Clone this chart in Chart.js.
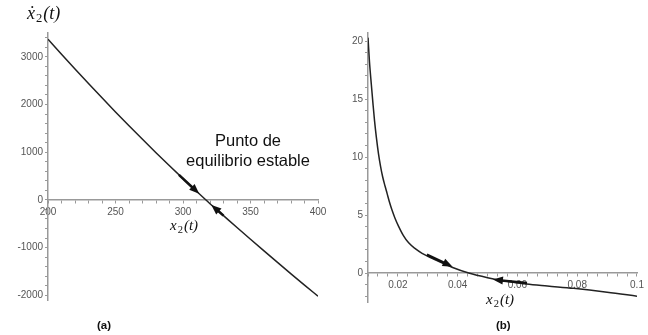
<!DOCTYPE html>
<html>
<head>
<meta charset="utf-8">
<script src="https://cdn.jsdelivr.net/npm/chart.js@4/dist/chart.umd.min.js"></script>
<style>
  html, body { margin: 0; padding: 0; background: #fff; }
  #wrap { position: relative; width: 648px; height: 335px; overflow: hidden; }
  canvas { position: absolute; top: 0; }
  .lbl { position: absolute; white-space: nowrap; color: #111; }
  .math { font-family: "Liberation Serif", "DejaVu Serif", serif; font-style: italic; }
  .math sub { font-style: normal; font-size: 70%; vertical-align: -0.25em; margin: 0 1px; }
  .cap { font-family: "Liberation Sans", Arial, sans-serif; font-weight: bold; font-size: 11.5px; }
</style>
</head>
<body>
<div id="wrap">
  <canvas id="chartA" width="330" height="335" style="left:0"></canvas>
  <canvas id="chartB" width="318" height="335" style="left:330px"></canvas>

  <div class="lbl math" style="left:27px; top:3px; font-size:18px;">ẋ<sub>2</sub>(t)</div>
  <div class="lbl math" style="left:170px; top:217px; font-size:15px;">x<sub>2</sub>(t)</div>
  <div class="lbl math" style="left:486px; top:291px; font-size:15px;">x<sub>2</sub>(t)</div>

  <div class="lbl" style="left:168px; top:130px; width:160px; text-align:center; font-family:'Liberation Sans', Arial, sans-serif; font-size:16.5px; line-height:20px;">Punto de<br>equilibrio estable</div>

  <div class="lbl cap" style="left:97px; top:319px;">(a)</div>
  <div class="lbl cap" style="left:496px; top:319px;">(b)</div>
</div>

<script>
// (a) x2 vs dx2/dt
const xA = [200, 210, 220, 230, 240, 250, 260, 270, 280, 290, 300, 310, 320, 330, 340, 350, 360, 370, 380, 390, 400];
const yA = [3370, 3055, 2745, 2440, 2140, 1845, 1555, 1270, 990, 715, 445, 180, -80, -330, -580, -827, -1071, -1312, -1551, -1787, -2020];
const xLabelsA = [200, 250, 300, 350, 400];
const yLabelsA = [-2000, -1000, 0, 1000, 2000, 3000];
// arrows: [xFrom, yFrom, xTo, yTo]
const arrowsA = [[297, 525, 312, 128], [330, -330, 321, -105]];

// (b)
const xB = [0.0100, 0.0105, 0.0111, 0.0117, 0.0122, 0.0128, 0.0135, 0.0142, 0.0149, 0.0157, 0.0164, 0.0172, 0.0180, 0.0190, 0.0202, 0.0218, 0.0236, 0.0258, 0.0281, 0.0325, 0.0381, 0.0437, 0.0500, 0.0565, 0.0630, 0.0700, 0.0788, 0.0900, 0.1000];
const yB = [20.3, 18.2, 16.3, 14.5, 13.1, 11.7, 10.3, 9.2, 8.3, 7.5, 6.85, 6.1, 5.45, 4.75, 4.05, 3.25, 2.6, 2.1, 1.7, 1.14, 0.5, 0.0, -0.40, -0.72, -0.95, -1.12, -1.32, -1.65, -2.0];
const xLabelsB = [0.02, 0.04, 0.06, 0.08, 0.1];
const yLabelsB = [0, 5, 10, 15, 20];
const arrowsB = [[0.0297, 1.58, 0.0383, 0.55], [0.0632, -0.86, 0.0518, -0.57]];

const axisColor = "#999";
const tickFont = { family: "Liberation Sans", size: 10 };
const tickColor = "#555";

function stepTicks(from, to, step) {
  const out = [];
  const n = Math.round((to - from) / step);
  for (let i = 0; i <= n; i++) out.push({ value: from + i * step });
  return out;
}

function labelIn(list) {
  return function (value) {
    for (let i = 0; i < list.length; i++) {
      if (Math.abs(list[i] - value) < 1e-9 * Math.max(1, Math.abs(value)) + 1e-9) return String(list[i]);
    }
    return "";
  };
}

function arrowPlugin(arrows) {
  return {
    id: "arrows",
    afterDatasetsDraw(chart) {
      const c = chart.ctx;
      const sx = chart.scales.x, sy = chart.scales.y;
      c.save();
      c.strokeStyle = "#111";
      c.fillStyle = "#111";
      c.lineWidth = 2.5;
      arrows.forEach(a => {
        const x0 = sx.getPixelForValue(a[0]), y0 = sy.getPixelForValue(a[1]);
        const x1 = sx.getPixelForValue(a[2]), y1 = sy.getPixelForValue(a[3]);
        const ang = Math.atan2(y1 - y0, x1 - x0);
        const len = 10, half = 4;
        const bx = x1 - len * Math.cos(ang), by = y1 - len * Math.sin(ang);
        c.beginPath();
        c.moveTo(x0, y0);
        c.lineTo(bx + 1.5 * Math.cos(ang), by + 1.5 * Math.sin(ang));
        c.stroke();
        c.beginPath();
        c.moveTo(x1, y1);
        c.lineTo(bx + half * Math.sin(ang), by - half * Math.cos(ang));
        c.lineTo(bx - half * Math.sin(ang), by + half * Math.cos(ang));
        c.closePath();
        c.fill();
      });
      c.restore();
    }
  };
}

function axisOpts(extra) {
  return Object.assign({
    type: "linear",
    grid: { drawOnChartArea: false, drawTicks: true, tickLength: 3, color: axisColor, lineWidth: 1 },
    border: { color: axisColor, width: 1.5 },
    ticks: { autoSkip: false, maxRotation: 0, font: tickFont, color: tickColor, padding: 2 }
  }, extra);
}

function makeChart(id, xs, ys, xr, yr, opts) {
  const xScale = axisOpts({ min: xr[0], max: xr[1], position: { y: 0 },
    afterBuildTicks: s => { s.ticks = opts.xTicks; } });
  xScale.ticks = Object.assign({}, xScale.ticks, { callback: labelIn(opts.xLabels), padding: 3 });
  const yScale = axisOpts({ min: yr[0], max: yr[1], position: "left",
    afterBuildTicks: s => { s.ticks = opts.yTicks; },
    afterFit: s => { s.width = opts.yWidth; } });
  yScale.ticks = Object.assign({}, yScale.ticks, { callback: labelIn(opts.yLabels) });

  return new Chart(document.getElementById(id), {
    type: "scatter",
    data: {
      datasets: [{
        data: xs.map((x, i) => ({ x: x, y: ys[i] })),
        showLine: true,
        borderColor: "#222",
        borderWidth: 1.5,
        pointRadius: 0,
        cubicInterpolationMode: "monotone",
        fill: false
      }]
    },
    options: {
      responsive: false,
      animation: false,
      layout: { padding: opts.padding },
      plugins: { legend: { display: false }, tooltip: { enabled: false } },
      scales: { x: xScale, y: yScale }
    },
    plugins: [arrowPlugin(opts.arrows)]
  });
}

makeChart("chartA", xA, yA, [200, 400], [-2100, 3500], {
  xTicks: stepTicks(200, 400, 10),
  yTicks: stepTicks(-2000, 3400, 200),
  xLabels: xLabelsA,
  yLabels: yLabelsA,
  yWidth: 48,
  padding: { top: 33, right: 12, bottom: 35, left: 0 },
  arrows: arrowsA
});

makeChart("chartB", xB, yB, [0.01, 0.1], [-2.5, 20.7], {
  xTicks: stepTicks(0.01, 0.1, 0.09 / 27),
  yTicks: stepTicks(-2, 20, 1),
  xLabels: xLabelsB,
  yLabels: yLabelsB,
  yWidth: 38,
  padding: { top: 33, right: 11, bottom: 33, left: 0 },
  arrows: arrowsB
});
</script>
</body>
</html>
